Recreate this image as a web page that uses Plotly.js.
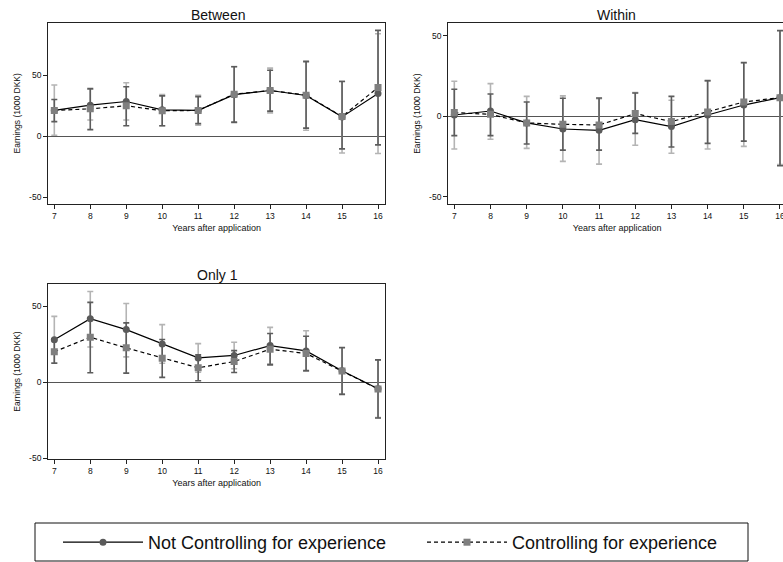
<!DOCTYPE html>
<html>
<head>
<meta charset="utf-8">
<script src="https://cdn.plot.ly/plotly-3.0.1.min.js"></script>
<style>
html, body { margin: 0; padding: 0; overflow: hidden; background: #fff; }
#chart { width: 790px; height: 562px; }
</style>
</head>
<body>
<div id="chart"></div>
<script>
// ---------- data ----------
const years = [7, 8, 9, 10, 11, 12, 13, 14, 15, 16];
const xTicks = [7, 8, 9, 10, 11, 12, 13, 14, 15, 16];
const yTicks = [-50, 0, 50];

const panelTitles = ["Between", "Within", "Only 1"];
const seriesNames = ["Not Controlling for experience", "Controlling for experience"];

const betweenNot   = [21.1, 25.4, 28.4, 21.6, 21.1, 34.0, 37.4, 33.3, 15.8, 35.0];
const betweenNotLo = [0.8, 13.2, 13.2, 8.6, 8.9, 11.0, 19.1, 4.9, -13.7, -14.2];
const betweenNotHi = [41.9, 38.4, 43.8, 34.0, 33.5, 57.0, 55.7, 61.5, 45.0, 83.9];
const betweenCtl   = [21.1, 22.4, 24.9, 20.8, 21.1, 34.4, 37.4, 33.6, 16.1, 39.9];
const betweenCtlLo = [11.9, 5.4, 8.6, 8.6, 10.3, 11.5, 20.5, 6.6, -10.4, -7.1];
const betweenCtlHi = [30.0, 38.9, 40.5, 33.0, 32.4, 56.8, 54.0, 61.0, 44.8, 86.6];

const withinNot   = [0.8, 3.3, -4.1, -7.9, -8.7, -2.1, -6.4, 0.8, 7.0, 11.6];
const withinNotLo = [-20.3, -14.3, -19.9, -28.0, -29.7, -18.0, -23.0, -20.3, -18.7, -30.0];
const withinNotHi = [21.8, 20.3, 12.4, 12.7, 11.0, 14.7, 10.0, 22.0, 33.0, 53.0];
const withinCtl   = [2.3, 1.2, -4.1, -5.0, -5.4, 1.7, -3.3, 2.7, 8.9, 11.6];
const withinCtlLo = [-12.0, -12.0, -17.2, -21.0, -21.0, -10.6, -19.1, -16.8, -15.4, -30.7];
const withinCtlHi = [16.8, 13.9, 8.9, 11.2, 11.4, 14.5, 12.4, 22.2, 33.4, 53.3];

const only1Not   = [27.9, 41.7, 34.5, 25.1, 15.9, 17.5, 24.0, 20.5, 7.4, -4.4];
const only1NotLo = [12.6, 23.1, 16.6, 12.4, 6.5, 8.8, 12.0, 7.2, -7.8, -23.4];
const only1NotHi = [43.2, 59.6, 51.7, 37.8, 25.3, 26.2, 36.0, 33.8, 22.5, 14.5];
const only1Ctl   = [19.9, 29.5, 22.5, 15.7, 9.4, 13.5, 21.6, 18.8, 7.3, -4.5];
const only1CtlLo = [12.4, 6.1, 5.9, 3.1, 0.9, 6.3, 11.3, 7.5, -8.1, -23.6];
const only1CtlHi = [27.4, 52.4, 38.9, 28.0, 17.9, 20.7, 31.9, 30.1, 22.7, 14.6];

// ---------- layout helpers (pixel geometry) ----------
const W = 790, H = 562;
const fx = p => p / W;
const fy = p => 1 - p / H;
const FONT = "Liberation Sans, Arial, sans-serif";

const panels = [
  { est: [betweenNot, betweenNotLo, betweenNotHi, betweenCtl, betweenCtlLo, betweenCtlHi],
    xa: 'x', ya: 'y', dom: [48.3, 385, 22.7, 204], yr: [-55.5, 92.9], xr: [6.833, 16.194] },
  { est: [withinNot, withinNotLo, withinNotHi, withinCtl, withinCtlLo, withinCtlHi],
    xa: 'x2', ya: 'y2', dom: [448.3, 786, 23.3, 204], yr: [-54.5, 57.8], xr: [6.834, 16.166] },
  { est: [only1Not, only1NotLo, only1NotHi, only1Ctl, only1CtlLo, only1CtlHi],
    xa: 'x3', ya: 'y3', dom: [48.3, 385, 284, 459], yr: [-50.6, 64.5], xr: [6.833, 16.194] }
];

const traces = [];
panels.forEach((p, i) => {
  const [nv, nlo, nhi, cv, clo, chi] = p.est;
  traces.push({
    type: 'scatter', mode: 'lines+markers', x: years, y: nv,
    xaxis: p.xa, yaxis: p.ya, name: seriesNames[0], legendgroup: 'a', showlegend: i === 0,
    line: { color: '#000', width: 1.2 },
    marker: { symbol: 'circle', size: 7, color: '#5a5a5a' },
    error_y: { type: 'data', symmetric: false,
      array: nhi.map((h, k) => h - nv[k]), arrayminus: nlo.map((l, k) => nv[k] - l),
      color: '#b4b4b4', thickness: 1.6, width: 3 }
  });
  traces.push({
    type: 'scatter', mode: 'lines+markers', x: years, y: cv,
    xaxis: p.xa, yaxis: p.ya, name: seriesNames[1], legendgroup: 'b', showlegend: i === 0,
    line: { color: '#000', width: 1.2, dash: '4px,3px' },
    marker: { symbol: 'square', size: 7, color: '#7f7f7f' },
    error_y: { type: 'data', symmetric: false,
      array: chi.map((h, k) => h - cv[k]), arrayminus: clo.map((l, k) => cv[k] - l),
      color: '#5c5c5c', thickness: 1.6, width: 3 }
  });
});

function xAxis(p, anchor) {
  return {
    domain: [fx(p.dom[0]), fx(p.dom[1])], range: p.xr, anchor: anchor,
    tickmode: 'array', tickvals: xTicks, ticktext: xTicks.map(String),
    ticks: 'outside', ticklen: 4, tickcolor: '#222', tickwidth: 1,
    showline: true, mirror: true, linecolor: '#222', linewidth: 1.2,
    showgrid: false, zeroline: false,
    tickfont: { family: FONT, size: 8.5, color: '#111' },
    title: { text: 'Years after application', font: { family: FONT, size: 9, color: '#111' }, standoff: 4 }
  };
}
function yAxis(p, anchor) {
  return {
    domain: [fy(p.dom[3]), fy(p.dom[2])], range: p.yr, anchor: anchor,
    tickmode: 'array', tickvals: yTicks, ticktext: yTicks.map(String),
    ticks: 'outside', ticklen: 4, tickcolor: '#222', tickwidth: 1,
    showline: true, mirror: true, linecolor: '#222', linewidth: 1.2,
    showgrid: false, zeroline: true, zerolinecolor: '#555', zerolinewidth: 1,
    tickfont: { family: FONT, size: 8.5, color: '#111' },
    title: { text: 'Earnings (1000 DKK)', font: { family: FONT, size: 8.5, color: '#111' }, standoff: 7 }
  };
}

const titlePos = [[217.5, 15], [616, 15], [217, 275]];
const layout = {
  width: W, height: H,
  margin: { l: 0, r: 0, t: 0, b: 0 },
  paper_bgcolor: '#fff', plot_bgcolor: '#fff',
  font: { family: FONT, color: '#111' },
  xaxis: xAxis(panels[0], 'y'), yaxis: yAxis(panels[0], 'x'),
  xaxis2: xAxis(panels[1], 'y2'), yaxis2: yAxis(panels[1], 'x2'),
  xaxis3: xAxis(panels[2], 'y3'), yaxis3: yAxis(panels[2], 'x3'),
  annotations: panelTitles.map((t, i) => ({
    text: t, xref: 'paper', yref: 'paper', x: fx(titlePos[i][0]), y: fy(titlePos[i][1]),
    xanchor: 'center', yanchor: 'middle', showarrow: false,
    font: { family: FONT, size: 14, color: '#111' }
  })),
  shapes: [{
    type: 'rect', xref: 'paper', yref: 'paper',
    x0: fx(35), x1: fx(748), y0: fy(561), y1: fy(523),
    line: { color: '#111', width: 1 }, fillcolor: 'rgba(0,0,0,0)', layer: 'above'
  }],
  showlegend: true,
  legend: {
    orientation: 'h', x: fx(58), y: fy(524), xanchor: 'left', yanchor: 'top',
    borderwidth: 0, bgcolor: 'rgba(0,0,0,0)',
    font: { family: FONT, size: 18, color: '#111' },
    itemwidth: 80, entrywidth: 269, entrywidthmode: 'pixels', traceorder: 'normal'
  }
};

Plotly.newPlot('chart', traces, layout, { displayModeBar: false, staticPlot: true });
</script>
</body>
</html>
